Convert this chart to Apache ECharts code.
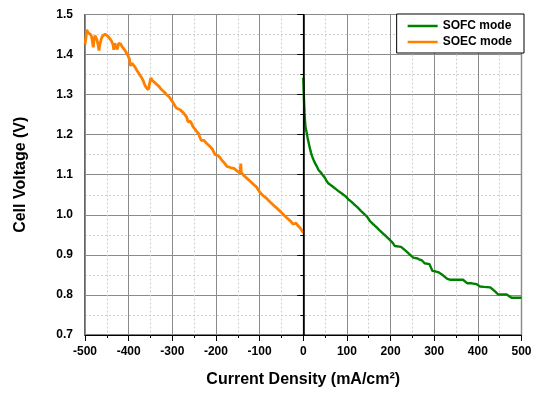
<!DOCTYPE html>
<html>
<head>
<meta charset="utf-8">
<title>Cell Voltage vs Current Density</title>
<script src="https://cdn.jsdelivr.net/npm/echarts@6/dist/echarts.min.js"></script>
<style>
  html, body { margin: 0; padding: 0; background: #fff; }
  #chart { width: 539px; height: 393px; }
</style>
</head>
<body>
<div id="chart"></div>
<script>
// Electrolysis (SOEC) branch: negative current density, mA/cm2
const soecCurrent = [
  -500, -498, -496, -493, -490, -487, -485, -483, -481, -479, -477, -475, -473, -470, -468, -466,
  -463, -460, -457, -454, -450, -446, -442, -439, -436, -434, -432, -430, -428, -426, -423, -421,
  -418, -415, -412, -408, -405, -401, -398, -396, -394, -392, -389, -385, -381, -377, -374, -370,
  -366, -363, -360, -357, -355, -352, -349, -346, -342, -338, -334, -330, -326, -322, -318, -314,
  -310, -306, -302, -298, -294, -290, -286, -282, -278, -274, -270, -267, -264, -262, -259, -255,
  -252, -248, -244, -240, -237, -234, -231, -228, -225, -221, -217, -213, -209, -205, -202, -199,
  -195, -191, -187, -183, -179, -175, -171, -167, -163, -159, -155, -151, -147, -145, -143, -142,
  -140, -137, -133, -129, -125, -121, -117, -113, -109, -106, -103, -100, -97, -94, -91, -88,
  -84, -80, -76, -72, -68, -64, -60, -56, -52, -48, -44, -40, -36, -32, -28, -24,
  -20, -16, -13, -10, -7, -4, -1, 0
];
const soecVoltage = [
  1.425, 1.440, 1.462, 1.455, 1.452, 1.450, 1.445, 1.432, 1.418, 1.440, 1.447, 1.445, 1.438, 1.425, 1.410, 1.425,
  1.438, 1.446, 1.450, 1.451, 1.448, 1.444, 1.438, 1.433, 1.425, 1.412, 1.428, 1.426, 1.418, 1.413, 1.428, 1.432,
  1.426, 1.420, 1.416, 1.410, 1.404, 1.396, 1.388, 1.372, 1.368, 1.378, 1.375, 1.368, 1.360, 1.354, 1.348, 1.342,
  1.333, 1.324, 1.318, 1.315, 1.312, 1.328, 1.342, 1.336, 1.332, 1.328, 1.324, 1.320, 1.314, 1.310, 1.306, 1.301,
  1.297, 1.293, 1.286, 1.280, 1.272, 1.266, 1.268, 1.262, 1.258, 1.254, 1.250, 1.244, 1.232, 1.236, 1.234, 1.226,
  1.219, 1.214, 1.208, 1.203, 1.194, 1.186, 1.188, 1.186, 1.184, 1.178, 1.174, 1.170, 1.165, 1.161, 1.150, 1.150,
  1.148, 1.143, 1.137, 1.132, 1.127, 1.121, 1.119, 1.118, 1.117, 1.116, 1.112, 1.109, 1.105, 1.104, 1.128, 1.106,
  1.102, 1.099, 1.096, 1.091, 1.087, 1.083, 1.079, 1.075, 1.072, 1.068, 1.062, 1.058, 1.053, 1.049, 1.047, 1.044,
  1.041, 1.037, 1.032, 1.028, 1.024, 1.020, 1.016, 1.012, 1.008, 1.004, 0.999, 0.995, 0.991, 0.987, 0.983, 0.977,
  0.976, 0.979, 0.974, 0.970, 0.967, 0.962, 0.957, 0.955
];

// Fuel-cell (SOFC) branch: positive current density, mA/cm2
const sofcCurrent = [
  0, 1, 2, 3, 4, 5, 6, 8, 10, 12, 15, 18, 21, 24, 27, 31,
  35, 40, 45, 48, 50, 53, 57, 62, 68, 75, 82, 90, 97, 103, 110, 118,
  125, 132, 140, 147, 153, 160, 167, 175, 183, 190, 196, 200, 205, 210, 214, 224,
  228, 235, 245, 252, 262, 267, 272, 278, 282, 289, 292, 296, 302, 309, 313, 320,
  330, 336, 366, 370, 376, 386, 397, 405, 414, 428, 434, 440, 447, 466, 470, 477,
  500
];
const sofcVoltage = [
  1.342, 1.310, 1.280, 1.255, 1.235, 1.222, 1.214, 1.204, 1.192, 1.182, 1.167, 1.154, 1.144, 1.136, 1.129, 1.121,
  1.112, 1.106, 1.099, 1.096, 1.092, 1.085, 1.079, 1.075, 1.070, 1.064, 1.058, 1.052, 1.046, 1.039, 1.033, 1.025,
  1.018, 1.010, 1.002, 0.994, 0.984, 0.977, 0.970, 0.961, 0.953, 0.946, 0.940, 0.937, 0.930, 0.922, 0.920, 0.920,
  0.917, 0.910, 0.900, 0.893, 0.891, 0.888, 0.886, 0.879, 0.878, 0.877, 0.870, 0.860, 0.859, 0.857, 0.853, 0.849,
  0.840, 0.838, 0.838, 0.834, 0.829, 0.829, 0.827, 0.821, 0.820, 0.819, 0.814, 0.808, 0.801, 0.801, 0.798, 0.793,
  0.793
];

const seriesNames = ['SOFC mode', 'SOEC mode'];
const xTitle = 'Current Density (mA/cm\u00B2)';
const yTitle = 'Cell Voltage (V)';

const zip = (xs, ys) => xs.map((x, i) => [x, ys[i]]);
const FONT = '"Liberation Sans", Arial, sans-serif';

const chart = echarts.init(document.getElementById('chart'), null, { renderer: 'canvas' });

const axisCommon = {
  axisLine: { show: true, lineStyle: { color: '#000', width: 1.2 } },
  axisTick: { show: true, inside: false, length: 6, lineStyle: { color: '#000', width: 1 } },
  minorTick: { show: true, splitNumber: 2, length: 3, lineStyle: { color: '#000', width: 1 } },
  splitLine: { show: true, lineStyle: { color: '#8a8a8a', width: 1, type: 'solid' } },
  minorSplitLine: { show: true, lineStyle: { color: '#cfcfcf', width: 1, type: [2, 2] } },
  axisLabel: { color: '#000', fontFamily: FONT, fontWeight: 'bold', fontSize: 12 },
  nameLocation: 'middle',
  nameTextStyle: { color: '#000', fontFamily: FONT, fontWeight: 'bold', fontSize: 16 }
};

chart.setOption({
  animation: false,
  backgroundColor: '#fff',
  grid: {
    left: 85, right: 17.5, top: 14.5, bottom: 55,
    show: true, borderColor: '#000', borderWidth: 1.2, backgroundColor: 'transparent'
  },
  legend: {
    data: seriesNames,
    orient: 'vertical',
    right: 15,
    top: 14,
    padding: [6, 12, 5, 11],
    itemGap: 4,
    itemWidth: 30,
    itemHeight: 2.5,
    icon: 'rect',
    backgroundColor: '#fff',
    borderColor: '#000',
    borderWidth: 1,
    borderRadius: 0,
    textStyle: { color: '#000', fontFamily: FONT, fontWeight: 'bold', fontSize: 12, lineHeight: 12 }
  },
  xAxis: Object.assign({}, axisCommon, {
    type: 'value',
    min: -500, max: 500, interval: 100,
    name: xTitle,
    nameGap: 37,
    axisLabel: Object.assign({}, axisCommon.axisLabel, { margin: 11 })
  }),
  yAxis: Object.assign({}, axisCommon, {
    type: 'value',
    min: 0.7, max: 1.5, interval: 0.1,
    name: yTitle,
    nameGap: 56,
    axisLabel: Object.assign({}, axisCommon.axisLabel, {
      margin: 12,
      formatter: v => v.toFixed(1)
    })
  }),
  series: [
    {
      name: seriesNames[0],
      type: 'line',
      data: zip(sofcCurrent, sofcVoltage),
      symbol: 'none',
      color: '#008000',
      lineStyle: { color: '#008000', width: 2.4 },
      z: 3,
      markLine: {
        silent: true,
        symbol: 'none',
        label: { show: false },
        lineStyle: { color: '#000', width: 1.5, type: 'solid' },
        data: [{ xAxis: 0 }]
      }
    },
    {
      name: seriesNames[1],
      type: 'line',
      data: zip(soecCurrent, soecVoltage),
      symbol: 'none',
      color: '#ff8000',
      lineStyle: { color: '#ff8000', width: 2.8 },
      z: 3
    }
  ]
});
</script>
</body>
</html>
